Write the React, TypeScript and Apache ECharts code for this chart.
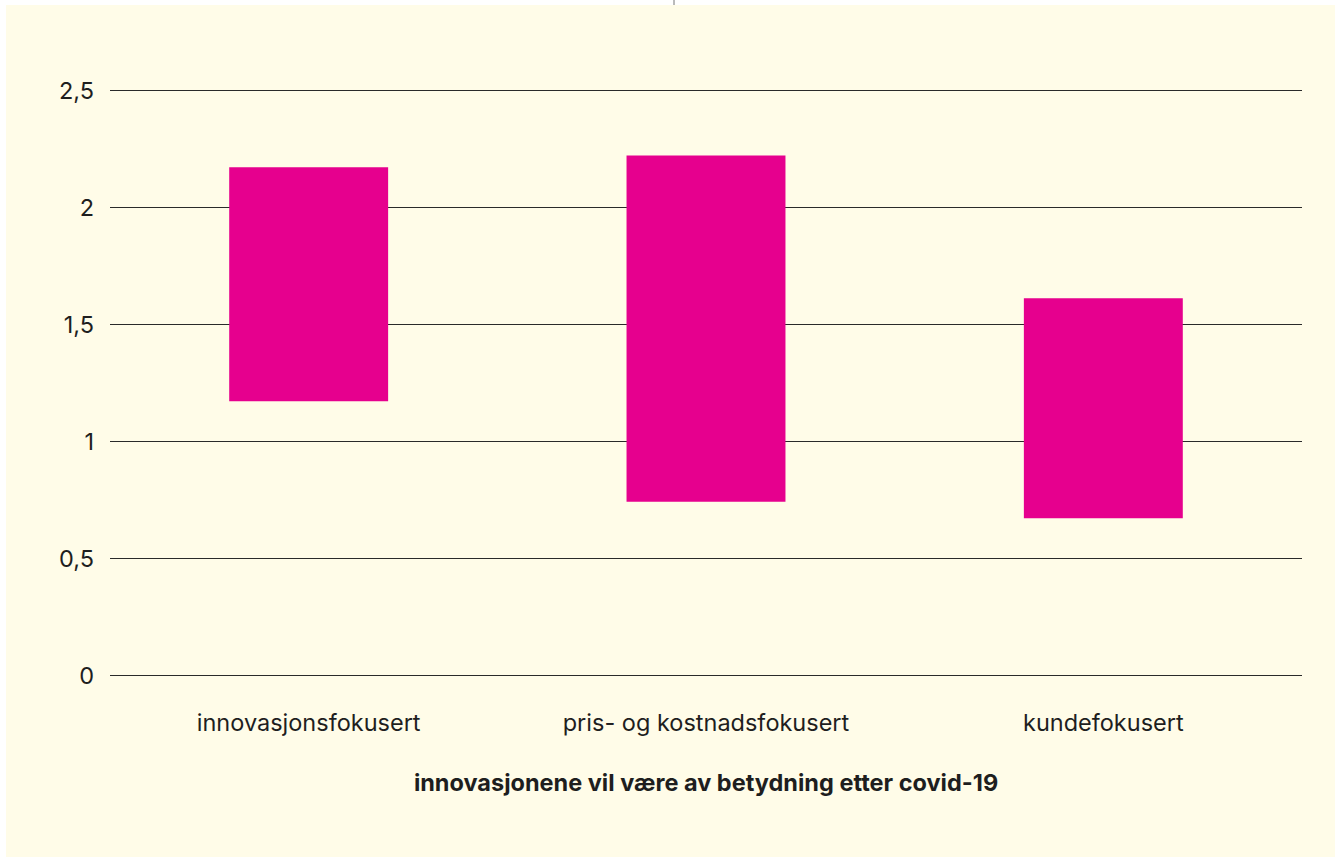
import React, { useEffect, useRef } from "react";
import * as echarts from "echarts";

const categories = ["innovasjonsfokusert", "pris- og kostnadsfokusert", "kundefokusert"];
const lowValues = [1.17, 0.74, 0.67];
const highValues = [2.17, 2.22, 1.61];
const yTicks = [0, 0.5, 1, 1.5, 2, 2.5];
const xAxisTitle = "innovasjonene vil være av betydning etter covid-19";

export default function App() {
  const ref = useRef<HTMLDivElement>(null);
  useEffect(() => {
    if (!ref.current) return;
    const chart = echarts.init(ref.current, undefined, { renderer: "svg" });
    const spans = highValues.map((h, i) => +(h - lowValues[i]).toFixed(3));
    chart.setOption({
      animation: false,
      backgroundColor: "#ffffff",
      textStyle: { fontFamily: "Inter" },
      graphic: [
        { type: "rect", z: -10, silent: true, shape: { x: 6, y: 5, width: 1335, height: 860 }, style: { fill: "#FFFCE8" } },
        { type: "line", silent: true, shape: { x1: 674, y1: 0, x2: 674, y2: 5 }, style: { stroke: "#777", lineWidth: 1 } },
      ],
      grid: { left: 110, right: 33, top: 90, bottom: 182 },
      xAxis: {
        type: "category",
        data: categories,
        axisLine: { show: false },
        axisTick: { show: false },
        axisLabel: { color: "#1e1e1e", fontSize: 23.5, margin: 35, fontFamily: "Inter" },
        name: xAxisTitle,
        nameLocation: "middle",
        nameGap: 95,
        nameTextStyle: { color: "#1e1e1e", fontSize: 23.5, fontWeight: "bold", fontFamily: "Inter" },
      },
      yAxis: {
        type: "value",
        min: 0,
        max: yTicks[yTicks.length - 1],
        interval: 0.5,
        axisLine: { show: false },
        axisTick: { show: false },
        splitLine: { lineStyle: { color: "#2a2a2a", width: 1 } },
        axisLabel: {
          color: "#1e1e1e",
          fontSize: 23.5,
          margin: 16,
          fontFamily: "Inter",
          formatter: (v: number) => String(v).replace(".", ","),
        },
      },
      series: [
        {
          type: "bar",
          stack: "range",
          data: lowValues,
          barWidth: "40%",
          itemStyle: { color: "transparent" },
          silent: true,
        },
        {
          type: "bar",
          stack: "range",
          data: spans,
          barWidth: "40%",
          itemStyle: { color: "#E6008E" },
        },
      ],
    });
    return () => chart.dispose();
  }, []);
  return (
    <div
      ref={ref}
      style={{ position: "absolute", left: 0, top: 0, width: 1335, height: 857 }}
    />
  );
}
